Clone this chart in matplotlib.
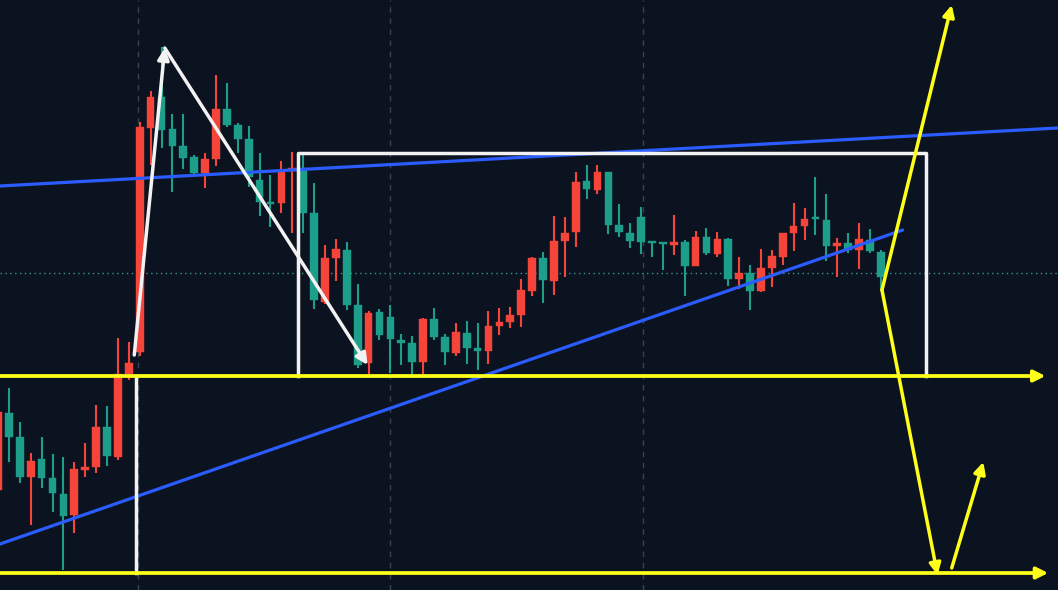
import matplotlib
matplotlib.use("Agg")
import matplotlib.pyplot as plt
import numpy as np

# ---- candle data (price units) ----
opens = [100, 177, 153, 113, 131, 112, 96, 75, 120, 123, 163, 133, 216, 238, 462, 493, 461, 444, 433, 417,
         431, 481, 465, 451, 410, 388, 387, 419, 422, 377, 288, 332, 340, 285, 227, 278, 273, 250, 247, 228,
         271, 253, 237, 257, 242, 239, 264, 268, 275, 299, 332, 309, 349, 358, 409, 400, 418, 365, 357, 373,
         348, 348, 345, 348, 324, 353, 336, 351, 311, 317, 299, 322, 333, 357, 364, 373, 370, 344, 347, 340,
         350, 338]
highs = [190, 202, 168, 137, 153, 136, 133, 128, 147, 185, 184, 252, 248, 468, 499, 543, 476, 476, 435, 437,
         515, 507, 467, 464, 437, 415, 429, 438, 435, 407, 345, 351, 348, 306, 279, 281, 285, 256, 254, 272,
         282, 256, 267, 269, 267, 279, 282, 283, 311, 333, 338, 374, 373, 418, 425, 425, 418, 386, 367, 383,
         348, 348, 375, 350, 359, 362, 358, 352, 333, 325, 341, 340, 357, 387, 382, 413, 396, 352, 357, 367,
         361, 340]
lows = [95, 128, 107, 65, 102, 78, 20, 57, 113, 117, 124, 130, 210, 234, 425, 442, 398, 421, 415, 402,
        424, 463, 437, 403, 374, 363, 377, 357, 357, 281, 286, 309, 280, 222, 214, 250, 217, 225, 215, 215,
        250, 225, 234, 226, 220, 226, 255, 262, 263, 294, 287, 295, 313, 343, 391, 396, 356, 353, 342, 336,
        333, 320, 335, 294, 324, 335, 333, 304, 301, 280, 298, 303, 325, 339, 350, 355, 329, 313, 337, 321,
        337, 300]
closes = [178, 153, 113, 129, 112, 97, 74, 121, 123, 163, 134, 216, 227, 463, 493, 460, 444, 432, 417, 431,
          481, 465, 451, 413, 388, 386, 418, 422, 377, 290, 332, 341, 285, 225, 277, 255, 251, 247, 228, 271,
          253, 238, 258, 242, 239, 264, 268, 275, 300, 332, 310, 349, 357, 408, 401, 418, 365, 358, 349, 348,
          347, 346, 348, 324, 353, 337, 351, 311, 317, 299, 322, 334, 357, 364, 371, 371, 344, 347, 340, 351,
          339, 313]

# ---- drawn levels / annotation anchors (bar index, price) ----
support_level = 214
floor_level = 17
box_top = 437
dotted_level = 317
box_left, box_right = 27.5, 85.1
grid_bars = [12.84, 35.96, 59.17]
blue_upper = [(0.18, 404), (97.2, 462)]
blue_lower = [(0.18, 46), (83.0, 360)]
white_up = [(12.5, 235), (15.3, 542)]
white_down = [(15.3, 542), (33.9, 225)]
white_vertical_x = 12.66
yellow_up = [(81.1, 300), (87.5, 585)]
yellow_down = [(81.1, 300), (86.2, 15)]
yellow_rebound = [(87.5, 22), (90.4, 128)]

BG = "#0c1320"
UP = "#f5443a"
DOWN = "#1d9e8b"
YELLOW = "#ffff1a"
BLUE = "#2a5cff"
WHITE = "#f2f2f2"

fig = plt.figure(figsize=(10.58, 5.90), dpi=100)
fig.patch.set_facecolor(BG)
ax = fig.add_axes([0, 0, 1, 1])
ax.set_facecolor(BG)
ax.set_xlim(0.183, 97.25)
ax.set_ylim(0, 590)
ax.axis("off")

# grid dashed verticals
for gx in grid_bars:
    ax.axvline(gx, color="#3a4150", lw=1.0, ls=(0, (4, 4)), zorder=1)

# dotted current-price line
ax.axhline(dotted_level, color="#3fb8a8", lw=1.0, ls=(0, (1, 2.5)), alpha=0.8, zorder=1)

# candles
o = np.array(opens, float); h = np.array(highs, float)
l = np.array(lows, float); c = np.array(closes, float)
x = np.arange(len(o))
cols = np.where(c >= o, UP, DOWN)
ax.vlines(x, l, h, colors=cols, lw=1.5, zorder=3)
bottoms = np.minimum(o, c)
heights = np.maximum(np.abs(c - o), 2.0)
ax.bar(x, heights, bottom=bottoms, width=0.7, color=cols, edgecolor=cols, lw=0.3, zorder=4)

# blue trend lines
for seg in (blue_upper, blue_lower):
    (x0, y0), (x1, y1) = seg
    ax.plot([x0, x1], [y0, y1], color=BLUE, lw=2.3, zorder=5, solid_capstyle="round")

# white box
ax.plot([box_left, box_left, box_right, box_right], [support_level, box_top, box_top, support_level],
        color=WHITE, lw=2.5, zorder=6)
ax.plot([white_vertical_x, white_vertical_x], [floor_level, support_level], color=WHITE, lw=2.5, zorder=6)

def arrow(seg, color, lw=2.5, ms=17):
    (x0, y0), (x1, y1) = seg
    ax.annotate("", xy=(x1, y1), xytext=(x0, y0),
                arrowprops=dict(arrowstyle="-|>", color=color, lw=lw, mutation_scale=ms,
                                shrinkA=0, shrinkB=0), zorder=7)

arrow(white_up, WHITE)
arrow(white_down, WHITE)

# yellow horizontal arrows
arrow([(0.18, support_level), (96.1, support_level)], YELLOW, lw=2.7)
arrow([(0.18, floor_level), (96.35, floor_level)], YELLOW, lw=2.7)

# yellow scenario arrows
arrow(yellow_up, YELLOW)
arrow(yellow_down, YELLOW)
arrow(yellow_rebound, YELLOW)

fig.savefig("out.png", dpi=100, facecolor=BG)
